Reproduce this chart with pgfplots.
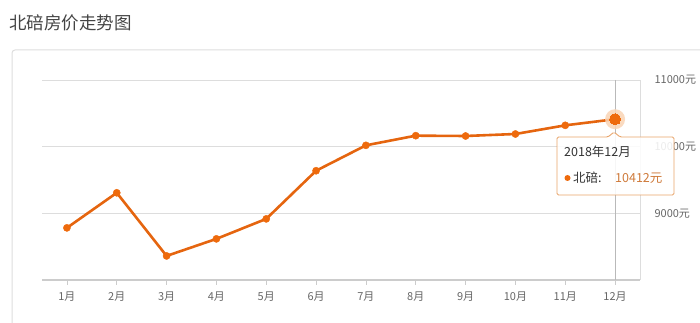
\documentclass[border=0pt]{standalone}
\usepackage{fontspec}
\setmainfont{Noto Sans CJK SC}
\usepackage{pgfplots}
\pgfplotsset{compat=1.18}
\definecolor{lineor}{HTML}{E5650F}
\definecolor{dotor}{HTML}{EE6A0C}
\definecolor{halo}{HTML}{F9D3B4}
\definecolor{gridc}{HTML}{DDDDDD}
\definecolor{axc}{HTML}{CCCCCC}
\definecolor{labc}{HTML}{666666}
\definecolor{titc}{HTML}{444444}
\definecolor{tipbd}{HTML}{E8A46A}
\definecolor{valc}{HTML}{CF7A3A}
\begin{document}
\begin{tikzpicture}[x=1pt,y=1pt]
\useasboundingbox (0,0) rectangle (700,323);
% card
\draw[color=gridc, line width=1pt, rounded corners=3pt] (12,0) -- (12,273) -- (700,273);
% title
\node[anchor=west, inner sep=0pt, text=titc, font=\fontsize{17.5}{20}\selectfont] at (9,300.5) {北碚房价走势图};
\begin{axis}[
  at={(42pt,43pt)}, anchor=south west,
  scale only axis, width=598pt, height=200pt,
  xmin=0.5, xmax=12.5, ymin=8000, ymax=11000,
  axis x line*=bottom, axis y line*=right,
  x axis line style={draw=axc, line width=1.6pt},
  y axis line style={draw=gridc, line width=0.8pt},
  xtick={1,...,12},
  xticklabels={1月,2月,3月,4月,5月,6月,7月,8月,9月,10月,11月,12月},
  ytick={9000,10000,11000},
  yticklabels={9000元,10000元,11000元},
  scaled y ticks=false,
  ymajorgrids, major grid style={draw=gridc, line width=0.8pt},
  tick align=outside, major tick length=5pt,
  major x tick style={draw=axc, line width=0.8pt},
  major y tick style={draw=none},
  xticklabel style={text=labc, font=\fontsize{11}{13}\selectfont, yshift=-3pt},
  yticklabel style={text=labc, font=\fontsize{11}{13}\selectfont, anchor=west, xshift=6pt},
  clip=false,
]
\draw[color=gray!55, line width=0.8pt] (axis cs:12,11000) -- (axis cs:12,8000);
\addplot[color=lineor, line width=2.6pt, mark=*, mark size=3.6pt, mark options={solid, fill=dotor, draw=dotor, line width=0.4pt}]
coordinates {
(1,8782) (2,9308) (3,8361) (4,8617) (5,8917) (6,9639) (7,10020) (8,10165) (9,10160) (10,10190) (11,10320) (12,10412)
};
\addplot[color=halo, draw=none, only marks, mark=*, mark size=10pt, mark options={fill=halo, draw=halo, line width=0pt, fill opacity=0.85, draw opacity=0}] coordinates {(12,10412)};
\addplot[color=dotor, draw=none, only marks, mark=*, mark size=5.5pt, mark options={fill=dotor, draw=dotor, line width=0pt}] coordinates {(12,10412)};
\end{axis}
% tooltip
\path[fill=white, fill opacity=0.88, draw=tipbd, draw opacity=1, line width=0.9pt, rounded corners=1.5pt]
  (557,186) -- (608,186) -- (614,191) -- (620,186) -- (674,186) -- (674,128) -- (557,128) -- cycle;
\node[anchor=west, inner sep=0pt, font=\fontsize{12.5}{14}\selectfont, text=black!80] at (564,171) {2018年12月};
\fill[color=dotor] (567.5,145) circle (3pt);
\node[anchor=west, inner sep=0pt, font=\fontsize{12.5}{14}\selectfont, text=black!80] at (573,145) {北碚:};
\node[anchor=west, inner sep=0pt, font=\fontsize{12.5}{14}\selectfont, text=valc] at (615,145) {10412元};
\end{tikzpicture}
\end{document}
